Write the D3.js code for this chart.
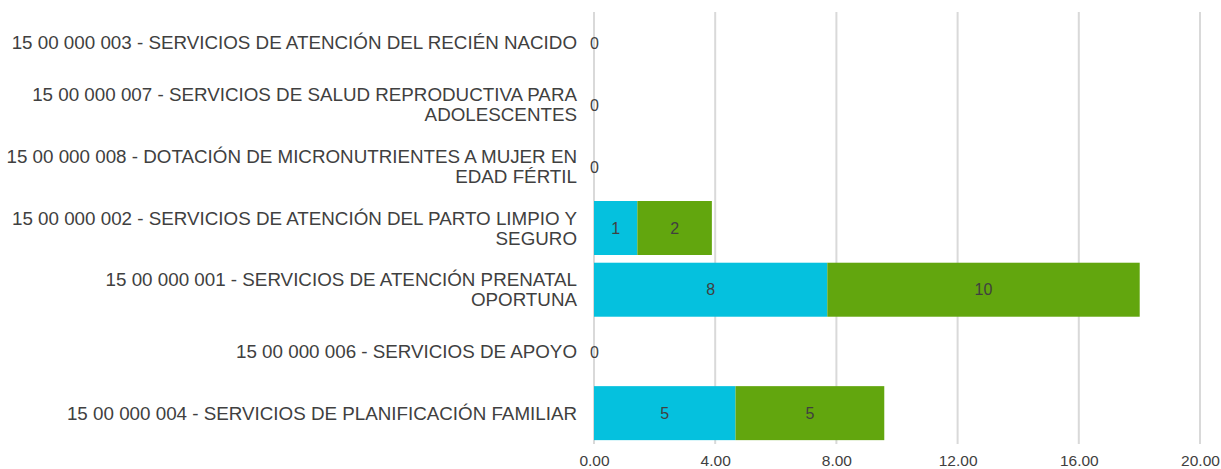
<!DOCTYPE html>
<html>
<head>
<meta charset="utf-8">
<script src="https://cdn.jsdelivr.net/npm/d3@7"></script>
<style>
  body { margin: 0; background: #fff; }
  text { font-family: "Liberation Sans", Arial, sans-serif; fill: #404040; }
</style>
</head>
<body>
<div id="chart"></div>
<script>
// categories, top to bottom
var categories = [
    "15 00 000 003 - SERVICIOS DE ATENCIÓN DEL RECIÉN NACIDO",
    "15 00 000 007 - SERVICIOS DE SALUD REPRODUCTIVA PARA ADOLESCENTES",
    "15 00 000 008 - DOTACIÓN DE MICRONUTRIENTES A MUJER EN EDAD FÉRTIL",
    "15 00 000 002 - SERVICIOS DE ATENCIÓN DEL PARTO LIMPIO Y SEGURO",
    "15 00 000 001 - SERVICIOS DE ATENCIÓN PRENATAL OPORTUNA",
    "15 00 000 006 - SERVICIOS DE APOYO",
    "15 00 000 004 - SERVICIOS DE PLANIFICACIÓN FAMILIAR"
];
var seriesA = [0, 0, 0, 1.43, 7.70, 0, 4.67];
var seriesB = [0, 0, 0, 2.46, 10.31, 0, 4.91];
var tickValues = [0, 4, 8, 12, 16, 20];

var width = 1221;
var height = 469;
var plotLeft = 594, plotRight = 1200, plotTop = 12, plotBottom = 444;

var svg = d3.select('#chart')
    .append('svg')
    .attr('width', width)
    .attr('height', height);

var x = d3.scaleLinear().domain([0, 20]).range([plotLeft, plotRight]);
var y = d3.scaleBand().domain(categories).range([plotTop, plotBottom]).paddingInner(0.125).paddingOuter(0.0625);

// gridlines
svg.selectAll('.grid')
    .data(tickValues)
    .enter().append('line')
    .attr('x1', function (d) { return x(d); })
    .attr('x2', function (d) { return x(d); })
    .attr('y1', plotTop)
    .attr('y2', plotBottom)
    .attr('stroke', '#d9d9d9')
    .attr('stroke-width', 2);

// x axis labels
var xAxis = d3.axisBottom(x)
    .tickValues(tickValues)
    .tickSize(0)
    .tickPadding(0)
    .tickFormat(d3.format('.2f'));

var gx = svg.append('g')
    .attr('transform', 'translate(0,' + (plotBottom + 11) + ')')
    .call(xAxis);
gx.select('.domain').remove();
gx.selectAll('text')
    .style('font-size', '15.5px')
    .style('font-family', '"Liberation Sans", Arial, sans-serif')
    .attr('fill', '#595959');

// stacked data
var rows = categories.map(function (c, i) {
    return { cat: c, a: seriesA[i], b: seriesB[i] };
});
var stack = d3.stack().keys(['a', 'b']);
var stacked = stack(rows);
var colors = ['#05C1DE', '#62A60E'];

var layers = svg.selectAll('.layer')
    .data(stacked)
    .enter().append('g')
    .attr('fill', function (d, i) { return colors[i]; });

layers.selectAll('rect')
    .data(function (d) { return d; })
    .enter().append('rect')
    .attr('x', function (d) { return x(d[0]); })
    .attr('y', function (d) { return y(d.data.cat); })
    .attr('width', function (d) { return x(d[1]) - x(d[0]); })
    .attr('height', y.bandwidth());

// value labels inside segments
layers.selectAll('.val')
    .data(function (d) { return d.filter(function (s) { return s[1] - s[0] > 0; }); })
    .enter().append('text')
    .attr('x', function (d) { return (x(d[0]) + x(d[1])) / 2; })
    .attr('y', function (d) { return y(d.data.cat) + y.bandwidth() / 2; })
    .attr('dy', '0.35em')
    .attr('text-anchor', 'middle')
    .style('font-size', '16px')
    .text(function (d) { return Math.round(d[1] - d[0]); });

// zero labels
svg.selectAll('.zero')
    .data(rows.filter(function (r) { return r.a + r.b === 0; }))
    .enter().append('text')
    .attr('x', x(0) - 4)
    .attr('y', function (d) { return y(d.cat) + y.bandwidth() / 2; })
    .attr('dy', '0.4em')
    .style('font-size', '16px')
    .text('0');

// category labels, wrapped
var labels = svg.selectAll('.cat')
    .data(categories)
    .enter().append('text')
    .attr('text-anchor', 'end')
    .style('font-size', '18.8px')
    .attr('y', function (d) { return y(d) + y.bandwidth() / 2; });

labels.each(function (d) {
    var t = d3.select(this);
    var words = d.split(' ');
    var lines = [], line = [];
    var probe = t.append('tspan');
    words.forEach(function (w) {
        line.push(w);
        probe.text(line.join(' '));
        if (probe.node().getComputedTextLength() > 577 && line.length > 1) {
            line.pop();
            lines.push(line.join(' '));
            line = [w];
        }
    });
    lines.push(line.join(' '));
    probe.remove();
    var lh = 20;
    var start = -(lines.length - 1) * lh / 2;
    lines.forEach(function (l, i) {
        t.append('tspan')
            .attr('x', 577)
            .attr('dy', i === 0 ? (start + 6.5) : lh)
            .text(l);
    });
});
</script>
</body>
</html>
